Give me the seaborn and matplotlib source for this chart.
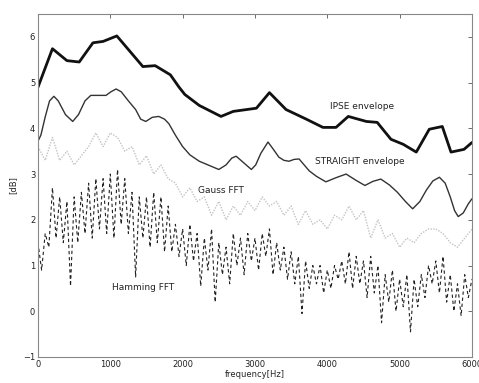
import numpy as np
import pandas as pd
import matplotlib
matplotlib.use("Agg")
import matplotlib.pyplot as plt
import seaborn as sns

# IPSE envelope (piecewise linear)
ipse_f = [0, 200, 400, 570, 760, 900, 1090, 1450, 1620, 1830, 1950, 2030, 2230,
          2530, 2700, 3020, 3200, 3430, 3710, 3940, 4120, 4290, 4540, 4690, 4880,
          5050, 5230, 5410, 5590, 5710, 5890, 6000]
ipse_db = [4.9, 5.74, 5.48, 5.45, 5.87, 5.9, 6.02, 5.35, 5.37, 5.17, 4.9, 4.74, 4.5,
           4.26, 4.37, 4.44, 4.78, 4.41, 4.2, 4.02, 4.02, 4.26, 4.15, 4.13, 3.76,
           3.65, 3.48, 3.98, 4.04, 3.48, 3.54, 3.69]

# STRAIGHT envelope (smooth)
straight_f = [0, 40, 100, 160, 220, 280, 380, 480, 560, 650, 730, 940, 1010, 1080,
              1150, 1250, 1350, 1420, 1490, 1580, 1670, 1750, 1810, 1900, 2000, 2100,
              2230, 2380, 2500, 2600, 2680, 2740, 2820, 2950, 3010, 3080, 3180, 3250,
              3330, 3400, 3470, 3540, 3610, 3680, 3750, 3850, 3980, 4120, 4260, 4400,
              4520, 4630, 4740, 4860, 4970, 5080, 5180, 5280, 5370, 5460, 5550, 5630,
              5700, 5760, 5810, 5880, 5950, 6000]
straight_db = [3.72, 3.85, 4.25, 4.6, 4.7, 4.6, 4.3, 4.15, 4.3, 4.6, 4.72, 4.72, 4.8, 4.86,
               4.8, 4.6, 4.41, 4.2, 4.15, 4.24, 4.26, 4.2, 4.1, 3.85, 3.6, 3.42,
               3.28, 3.18, 3.1, 3.2, 3.35, 3.39, 3.28, 3.1, 3.2, 3.45, 3.7, 3.55,
               3.37, 3.3, 3.28, 3.32, 3.33, 3.2, 3.07, 2.95, 2.83, 2.92, 3.0, 2.86,
               2.75, 2.84, 2.89, 2.76, 2.6, 2.4, 2.24, 2.4, 2.65, 2.85, 2.93, 2.8,
               2.5, 2.2, 2.07, 2.15, 2.35, 2.46]

# Gauss FFT, every 100 Hz
gauss_f = list(range(0, 6001, 100))
gauss_db = [3.6, 3.3, 3.8, 3.3, 3.5, 3.2, 3.4, 3.6, 3.9, 3.6,
            3.9, 3.8, 3.5, 3.6, 3.2, 3.4, 3.0, 3.2, 2.9, 2.8,
            2.5, 2.7, 2.4, 2.5, 2.1, 2.4, 2.0, 2.3, 2.1, 2.4,
            2.2, 2.5, 2.3, 2.4, 2.1, 2.3, 1.9, 2.2, 1.9, 2.0,
            1.8, 2.1, 2.0, 2.3, 2.0, 2.2, 1.6, 2.0, 1.6, 1.7,
            1.4, 1.6, 1.5, 1.7, 1.8, 1.8, 1.7, 1.5, 1.4, 1.6, 1.8]

# Hamming FFT: harmonic peaks (every 100 Hz) and notches (50 Hz between)
ham_peak = [1.5, 1.7, 2.7, 2.5, 2.4, 2.5, 2.6, 2.8, 2.9, 2.9,
            3.0, 3.1, 2.9, 2.6, 2.5, 2.5, 2.6, 2.5, 2.3, 1.9,
            1.8, 1.9, 1.7, 1.6, 1.8, 1.5, 1.4, 1.7, 1.6, 1.7,
            1.6, 1.7, 1.8, 1.5, 1.4, 1.3, 1.2, 1.1, 1.0, 1.0,
            0.9, 1.0, 1.1, 1.3, 1.2, 1.1, 1.2, 1.0, 0.8, 0.9,
            0.7, 0.8, 0.7, 0.8, 1.0, 1.1, 1.2, 0.8, 0.6, 0.8, 0.7]
ham_notch = [0.9, 1.4, 1.6, 1.5, 0.55, 1.5, 1.7, 1.6, 1.8, 1.7,
             1.6, 1.9, 1.7, 0.75, 1.6, 1.4, 1.5, 1.3, 1.3, 1.2,
             1.0, 1.1, 0.55, 0.9, 0.2, 0.8, 0.6, 1.0, 0.8, 1.1,
             0.9, 1.2, 0.8, 0.9, 0.7, 0.6, -0.05, 0.5, 0.6, 0.4,
             0.5, 0.7, 0.6, 0.5, 0.6, 0.3, 0.4, -0.25, 0.2, 0.0,
             0.1, -0.45, 0.1, 0.3, 0.6, 0.4, 0.2, 0.0, -0.1, 0.3]

ham_f = []
ham_db = []
for i, p in enumerate(ham_peak):
    ham_f.append(i * 100)
    ham_db.append(p)
    if i < len(ham_notch):
        ham_f.append(i * 100 + 50)
        ham_db.append(ham_notch[i])

sns.set_theme(style="white")
plt.rcParams['font.family'] = ['DejaVu Sans']

fig = plt.figure(figsize=(4.79, 3.83), dpi=100)
ax = fig.add_axes([0.0793, 0.0679, 0.906, 0.8956])

sns.lineplot(x=ham_f, y=ham_db, ax=ax, color="#222222", lw=0.8, linestyle=(0, (3, 2.5)), sort=False)
sns.lineplot(x=gauss_f, y=gauss_db, ax=ax, color="#c4c4c4", lw=1.0, linestyle=(0, (1, 1)), sort=False)
sns.lineplot(x=straight_f, y=straight_db, ax=ax, color="#333333", lw=1.0, sort=False)
sns.lineplot(x=ipse_f, y=ipse_db, ax=ax, color="#111111", lw=2.0, sort=False)

ax.text(4040, 4.48, "IPSE envelope", fontsize=6.5, va="center", color="#222222")
ax.text(3830, 3.28, "STRAIGHT envelope", fontsize=6.5, va="center", color="#222222")
ax.text(2210, 2.64, "Gauss FFT", fontsize=6.5, va="center", color="#222222")
ax.text(1020, 0.52, "Hamming FFT", fontsize=6.5, va="center", color="#222222")

ax.set_xlim(0, 6000)
ax.set_ylim(-1, 6.5)
ax.set_xticks([0, 1000, 2000, 3000, 4000, 5000, 6000])
ax.set_yticks([-1, 0, 1, 2, 3, 4, 5, 6])
ax.tick_params(direction="in", length=3, width=0.6, labelsize=6, colors="#555555",
               top=True, right=True, pad=2)
ax.tick_params(labelcolor="#222222")
for s in ax.spines.values():
    s.set_color("#888888")
    s.set_linewidth(0.8)
ax.set_xlabel("frequency[Hz]", fontsize=6, labelpad=1)
ax.set_ylabel("[dB]", fontsize=6, labelpad=4)

fig.savefig("out.png", dpi=100)
